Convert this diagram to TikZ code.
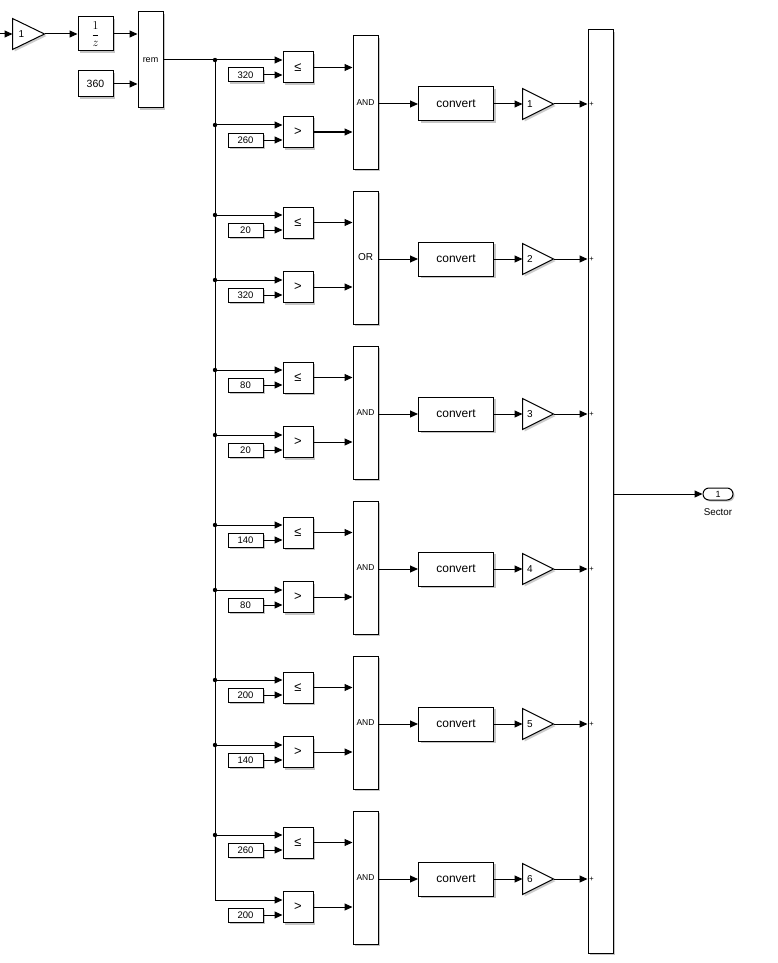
\documentclass[tikz,border=0pt]{standalone}
\usepackage{fontspec}
\setmainfont{Liberation Sans}
\usetikzlibrary{arrows.meta,shadows,calc}
\begin{document}
\begin{tikzpicture}[x=1pt,y=-1pt,line width=1pt,
  arr/.style={-{Triangle[length=8pt,width=7pt]}},
  blk/.style={draw,fill=white,inner sep=0pt,
    drop shadow={shadow xshift=2pt,shadow yshift=-2pt,fill=black!45}},
  cst/.style={blk,minimum width=35pt,minimum height=14pt,font=\fontsize{9.5}{10}\selectfont},
  cmp/.style={blk,minimum width=30pt,minimum height=31pt,font=\fontsize{13}{14}\selectfont},
  gate/.style={blk,minimum width=25pt,minimum height=133pt},
  conv/.style={blk,minimum width=75pt,minimum height=34pt,font=\fontsize{12}{13}\selectfont},
  tri/.style={inner sep=0pt,minimum width=30pt,minimum height=30pt},
  trilbl/.style={font=\fontsize{10}{10}\selectfont,inner sep=0pt},
  plus/.style={font=\fontsize{7.5}{7.5}\selectfont,inner sep=0pt},
  dot/.style={fill=black}]
\useasboundingbox (0,0) rectangle (777,963);

% --- top row
\coordinate (in) at (0,34);
\node[tri,minimum width=31pt] (g0) at (28.5,34) {};
\fill[black!20] ($(g0.north west)+(2,2)$) -- ($(g0.east)+(2,2)$) -- ($(g0.south west)+(2,2)$) -- cycle;
\draw[fill=white] (g0.north west) -- (g0.east) -- (g0.south west) -- cycle;
\node[trilbl] (g0l) at (21.5,34) {1};
\node[blk,minimum width=35pt,minimum height=34pt] (dz) at (95.5,34) {\fontsize{12}{12}\selectfont$\displaystyle\frac{1}{z}$};
\node[blk,minimum width=35pt,minimum height=26pt,font=\fontsize{10.5}{11}\selectfont] (c360) at (95.5,84) {360};
\node[blk,minimum width=25pt,minimum height=96pt,font=\fontsize{9}{9}\selectfont] (rem) at (150.5,60) {rem};
\draw[arr] (in) -- (g0.west);
\draw[arr] (g0.east) -- (dz.west);
\draw[arr] (dz.east) -- (dz.east -| rem.west);
\draw[arr] (c360.east) -- (c360.east -| rem.west);

% --- sum and output
\node[blk,minimum width=25pt,minimum height=923pt] (sum) at (600.5,491.5) {};
\node[draw,rounded corners=6pt,minimum width=30pt,minimum height=12pt,inner sep=0pt,
  font=\fontsize{9}{9}\selectfont,fill=white,
  drop shadow={shadow xshift=1.5pt,shadow yshift=-1.5pt,fill=black!45}] (out) at (718,494) {1};
\node[font=\fontsize{9.8}{10}\selectfont] (sl) at (718,512) {Sector};
\draw[arr] (sum.east |- out) -- (out.west);

% --- six groups
\foreach \k/\lo/\hi/\gt in {0/320/260/{\fontsize{8.5}{9}\selectfont AND},
                            1/20/320/{\fontsize{10}{10}\selectfont OR},
                            2/80/20/{\fontsize{8.5}{9}\selectfont AND},
                            3/140/80/{\fontsize{8.5}{9}\selectfont AND},
                            4/200/140/{\fontsize{8.5}{9}\selectfont AND},
                            5/260/200/{\fontsize{8.5}{9}\selectfont AND}}{
  \pgfmathsetmacro\d{155*\k}
  \pgfmathtruncatemacro\n{\k+1}
  \coordinate (ja\k) at (215,{60+\d});
  \coordinate (jb\k) at (215,{125+\d});
  \node[cmp] (ca\k) at (298,{67.5+\d}) {≤};
  \node[cst] (ka\k) at (245.5,{75+\d}) {\lo};
  \node[cmp] (cb\k) at (298,{132+\d}) {>};
  \node[cst] (kb\k) at (245.5,{140+\d}) {\hi};
  \node[gate] (gt\k) at (365.5,{102.5+\d}) {\gt};
  \node[conv] (cv\k) at (456,{104+\d}) {convert};
  \node[tri] (t\k) at (538,{104+\d}) {};
  \fill[black!20] ($(t\k.north west)+(2,2)$) -- ($(t\k.east)+(2,2)$) -- ($(t\k.south west)+(2,2)$) -- cycle;
  \draw[fill=white] (t\k.north west) -- (t\k.east) -- (t\k.south west) -- cycle;
  \node[trilbl] (tl\k) at ($(t\k.west)+(7.5,0)$) {\n};
  \node[plus] (p\k) at ($(t\k.east -| sum.west)+(4,0)$) {+};
  \draw[arr] (ka\k.east) -- (ka\k.east -| ca\k.west);
  \draw[arr] (kb\k.east) -- (kb\k.east -| cb\k.west);
  \draw[arr] (jb\k) -- (jb\k -| cb\k.west);
  \draw[arr] (ca\k.east) -- (ca\k.east -| gt\k.west);
  \draw[arr] (cb\k.east) -- (cb\k.east -| gt\k.west);
  \draw[arr] (gt\k.east |- cv\k) -- (cv\k.west);
  \draw[arr] (cv\k.east) -- (t\k.west);
  \draw[arr] (t\k.east) -- (t\k.east -| sum.west);
}
\draw[arr] (rem.east) -- (rem.east -| ca0.west);
\foreach \k in {1,...,5}{\draw[arr] (ja\k) -- (ja\k -| ca\k.west);}
\draw (ja0) -- (jb5);
\foreach \k in {0,...,5}{\fill[dot] (ja\k) circle (2.2pt);}
\foreach \k in {0,...,4}{\fill[dot] (jb\k) circle (2.2pt);}
\end{tikzpicture}
\end{document}
